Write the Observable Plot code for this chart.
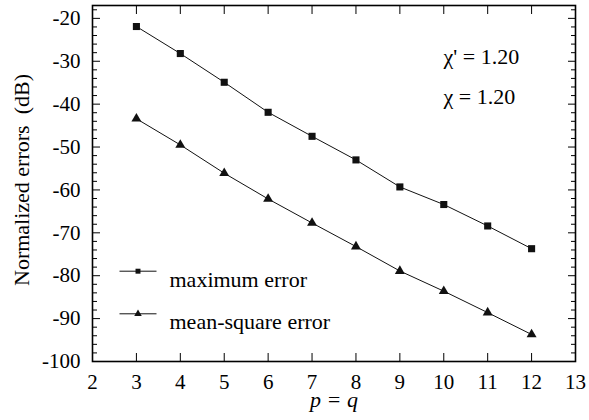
<!DOCTYPE html>
<html>
<head>
<meta charset="utf-8">
<script src="https://cdn.jsdelivr.net/npm/d3@7"></script>
<script src="https://cdn.jsdelivr.net/npm/@observablehq/plot@0.6"></script>
<style>
  html, body { margin: 0; padding: 0; background: #fff; }
  svg text { font-family: 'Liberation Serif', 'Times New Roman', serif; }
</style>
</head>
<body>
<div id="chart"></div>
<script>
const pq = [3, 4, 5, 6, 7, 8, 9, 10, 11, 12];
const maxError = [-21.9, -28.2, -34.9, -41.9, -47.5, -53.0, -59.3, -63.4, -68.4, -73.7];
const msError = [-43.4, -49.5, -56.1, -62.1, -67.7, -73.2, -78.9, -83.6, -88.6, -93.7];
const seriesNames = ["maximum error", "mean-square error"];
const xTicks = [2, 3, 4, 5, 6, 7, 8, 9, 10, 11, 12, 13];
const yMajor = [-100, -90, -80, -70, -60, -50, -40, -30, -20];
const yMinor = d3.range(-98, -17, 2).filter(v => v % 10 !== 0);
const annotations = ["\u03C7' = 1.20", "\u03C7 = 1.20"];
const xLabel = "p = q";
const yLabel = "Normalized errors  (dB)";

const rowsMax = pq.map((p, i) => ({p, v: maxError[i]}));
const rowsMs = pq.map((p, i) => ({p, v: msError[i]}));

const legendLine = {draw(ctx) { ctx.moveTo(-18.5, 0); ctx.lineTo(18.5, 0); }};

const FS = 22;
const chart = Plot.plot({
  width: 589,
  height: 420,
  marginLeft: 92,
  marginRight: 14,
  marginTop: 5,
  marginBottom: 59,
  style: {fontFamily: "'Liberation Serif', 'Times New Roman', serif", color: "black", background: "white"},
  x: {domain: [2, 13]},
  y: {domain: [-100, -17]},
  marks: [
    // ticks (inward)
    Plot.axisX({anchor: "bottom", ticks: xTicks, tickSize: -8, tickFormat: () => "", label: null}),
    Plot.axisX({anchor: "top", ticks: xTicks, tickSize: -8, tickFormat: () => "", label: null}),
    Plot.axisY({anchor: "left", ticks: yMajor, tickSize: -8, tickFormat: () => "", label: null}),
    Plot.axisY({anchor: "left", ticks: yMinor, tickSize: -5, tickFormat: () => "", label: null}),
    Plot.axisY({anchor: "right", ticks: yMajor, tickSize: -8, tickFormat: () => "", label: null}),
    Plot.axisY({anchor: "right", ticks: yMinor, tickSize: -5, tickFormat: () => "", label: null}),
    // labels
    Plot.axisX({anchor: "bottom", ticks: xTicks, tickSize: 0, tickPadding: 13, fontSize: 21, fontVariant: "normal", label: null, tickFormat: d => String(d)}),
    Plot.axisY({anchor: "left", ticks: yMajor, tickSize: 0, tickPadding: 12, fontSize: 21, fontVariant: "normal", label: null, tickFormat: d => String(d)}),
    Plot.frame({stroke: "black", strokeWidth: 1.6}),
    // data
    Plot.line(rowsMax, {x: "p", y: "v", stroke: "#111", strokeWidth: 1}),
    Plot.line(rowsMs, {x: "p", y: "v", stroke: "#111", strokeWidth: 1}),
    Plot.dot(rowsMax, {x: "p", y: "v", symbol: "square", r: 4, fill: "#111"}),
    Plot.dot(rowsMs, {x: "p", y: "v", symbol: "triangle", r: 3.7, fill: "#111"}),
    // legend
    Plot.dot([seriesNames[0]], {frameAnchor: "top-left", dx: 45.5, dy: 265.7, symbol: legendLine, fill: "none", stroke: "#111", strokeWidth: 1}),
    Plot.dot([seriesNames[0]], {frameAnchor: "top-left", dx: 45.5, dy: 265.7, symbol: "square", r: 2.8, fill: "#111"}),
    Plot.text([seriesNames[0]], {frameAnchor: "top-left", dx: 77, dy: 265.7, text: d => d, textAnchor: "start", fontSize: FS, fill: "black"}),
    Plot.dot([seriesNames[1]], {frameAnchor: "top-left", dx: 45.5, dy: 308.3, symbol: legendLine, fill: "none", stroke: "#111", strokeWidth: 1}),
    Plot.dot([seriesNames[1]], {frameAnchor: "top-left", dx: 45.5, dy: 308.3, symbol: "triangle", r: 2.8, fill: "#111"}),
    Plot.text([seriesNames[1]], {frameAnchor: "top-left", dx: 77, dy: 308.3, text: d => d, textAnchor: "start", fontSize: FS, fill: "black"}),
    // annotations
    Plot.text([annotations[0]], {frameAnchor: "top-left", dx: 351, dy: 43, text: d => d, textAnchor: "start", fontSize: FS, fill: "black"}),
    Plot.text([annotations[1]], {frameAnchor: "top-left", dx: 351, dy: 83, text: d => d, textAnchor: "start", fontSize: FS, fill: "black"}),
    // axis titles
    Plot.text([xLabel], {frameAnchor: "bottom", dy: 45, text: d => d, fontSize: FS, fontStyle: "italic", fill: "black"}),
    Plot.text([yLabel], {frameAnchor: "left", dx: -71, dy: -3.5, rotate: -90, textAnchor: "middle", text: d => d, fontSize: FS, fill: "black"})
  ]
});
document.getElementById("chart").appendChild(chart);
</script>
</body>
</html>
